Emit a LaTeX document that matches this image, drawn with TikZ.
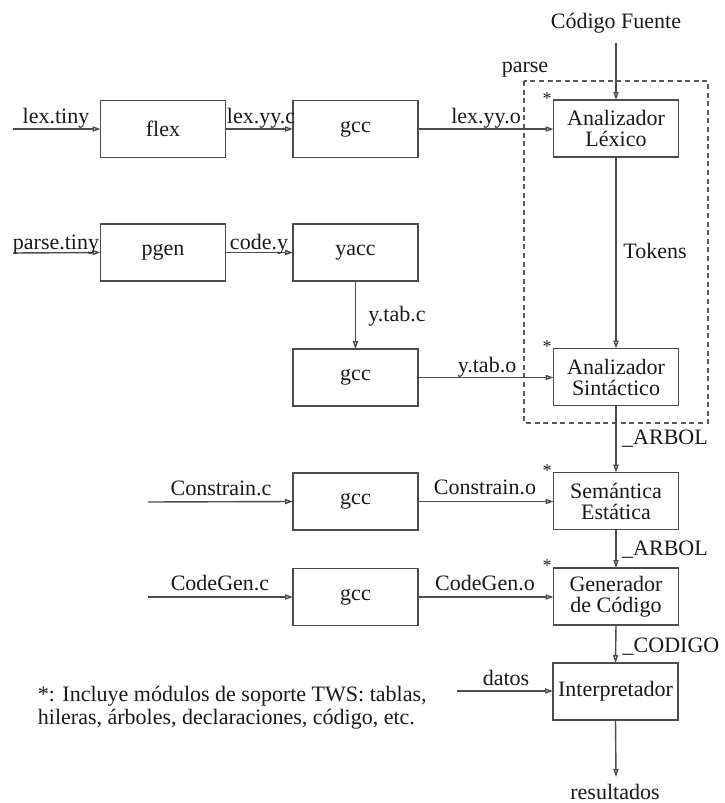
\documentclass[tikz,border=0pt]{standalone}
\usepackage{fontspec}
\setmainfont{Liberation Serif}
\usetikzlibrary{arrows.meta}
\begin{document}
\begin{tikzpicture}[x=0.5pt,y=-0.5pt,
  every node/.style={font=\fontsize{11}{11}\selectfont, text=black!90, inner sep=0pt, outer sep=0pt},
  boxnode/.style={draw=black!70, line width=0.7pt, minimum width=62.5pt, minimum height=28.5pt, align=center},
  conn/.style={draw=black!70, line width=0.7pt, -{Triangle[open,length=4pt,width=2.6pt]}},
  lbl/.style={anchor=base},
  star/.style={anchor=base, font=\fontsize{9}{9}\selectfont}]
\useasboundingbox (0,0) rectangle (724,803);
% boxes
\node[boxnode] (flex) at (163,129) {flex};
\node[boxnode] (gccA) at (355.5,129) {gcc};
\node[boxnode] (lexico) at (616,128.5) {Analizador\\[-0.5pt]Léxico};
\node[boxnode] (pgen) at (163,252.5) {pgen};
\node[boxnode] (yacc) at (355.5,252.5) {yacc};
\node[boxnode] (gccB) at (355.5,377.5) {gcc};
\node[boxnode] (sint) at (616,377) {Analizador\\[-0.5pt]Sintáctico};
\node[boxnode] (gccC) at (355.5,501.5) {gcc};
\node[boxnode] (sem) at (616,501) {Semántica\\[-0.5pt]Estática};
\node[boxnode] (gccD) at (355.5,597) {gcc};
\node[boxnode] (gen) at (616,596.5) {Generador\\[-0.5pt]de Código};
\node[boxnode] (interp) at (615.5,691.5) {Interpretador};
% dashed group
\draw[draw=black!65, line width=0.7pt, dash pattern=on 2.5pt off 1.8pt] (524,81) rectangle (708,423);
\node[lbl] (parselbl) at (525,72) {parse};
% free ends
\coordinate (lexin) at (13,129);
\coordinate (parsein) at (13,253);
\coordinate (codfu) at (616,43);
\coordinate (conin) at (148,502);
\coordinate (cgin) at (148,597);
\coordinate (datin) at (457,691);
\coordinate (resout) at (616,777);
% connectors
\draw[conn] (lexin) -- (flex.west);
\draw[conn] (flex.east) -- (gccA.west);
\draw[conn] (gccA.east) -- (lexico.west |- gccA.east);
\draw[conn] (codfu) -- (lexico.north);
\draw[conn] (parsein) -- (pgen.west);
\draw[conn] (pgen.east) -- (yacc.west);
\draw[conn] (yacc.south) -- (gccB.north);
\draw[conn] (gccB.east) -- (sint.west |- gccB.east);
\draw[conn] (lexico.south) -- (sint.north);
\draw[conn] (sint.south) -- (sem.north);
\draw[conn] (conin) -- (gccC.west);
\draw[conn] (gccC.east) -- (sem.west |- gccC.east);
\draw[conn] (sem.south) -- (gen.north);
\draw[conn] (cgin) -- (gccD.west);
\draw[conn] (gccD.east) -- (gen.west |- gccD.east);
\draw[conn] (gen.south) -- (interp.north);
\draw[conn] (datin) -- (interp.west |- datin);
\draw[conn] (interp.south) -- (resout);
% labels
\node[lbl] (l1) at (56,123) {lex.tiny};
\node[lbl] (l2) at (261,123) {lex.yy.c};
\node[lbl] (l3) at (486,123) {lex.yy.o};
\node[lbl] (l4) at (616,28) {Código Fuente};
\node[lbl] (l5) at (56,249) {parse.tiny};
\node[lbl] (l6) at (259,249) {code.y};
\node[lbl] (l7) at (397,321) {y.tab.c};
\node[lbl] (l8) at (487,372) {y.tab.o};
\node[lbl] (l9) at (655,258) {Tokens};
\node[lbl] (l10) at (665,444) {\_ARBOL};
\node[lbl] (l11) at (221,495) {Constrain.c};
\node[lbl] (l12) at (485,494) {Constrain.o};
\node[lbl] (l13) at (665,555) {\_ARBOL};
\node[lbl] (l14) at (220,590) {CodeGen.c};
\node[lbl] (l15) at (485,590) {CodeGen.o};
\node[lbl] (l16) at (671,652) {\_CODIGO};
\node[lbl] (l17) at (506,685) {datos};
\node[lbl] (l18) at (615,799) {resultados};
% asterisks
\node[star] (s1) at (547,104) {*};
\node[star] (s2) at (547,352) {*};
\node[star] (s3) at (547,476) {*};
\node[star] (s4) at (547,571) {*};
% footnote
\node[anchor=base west, align=left, font=\fontsize{11}{8.5}\selectfont] (note) at (38,724) {*: Incluye módulos de soporte TWS: tablas,\\hileras, árboles, declaraciones, código, etc.};
\end{tikzpicture}
\end{document}
